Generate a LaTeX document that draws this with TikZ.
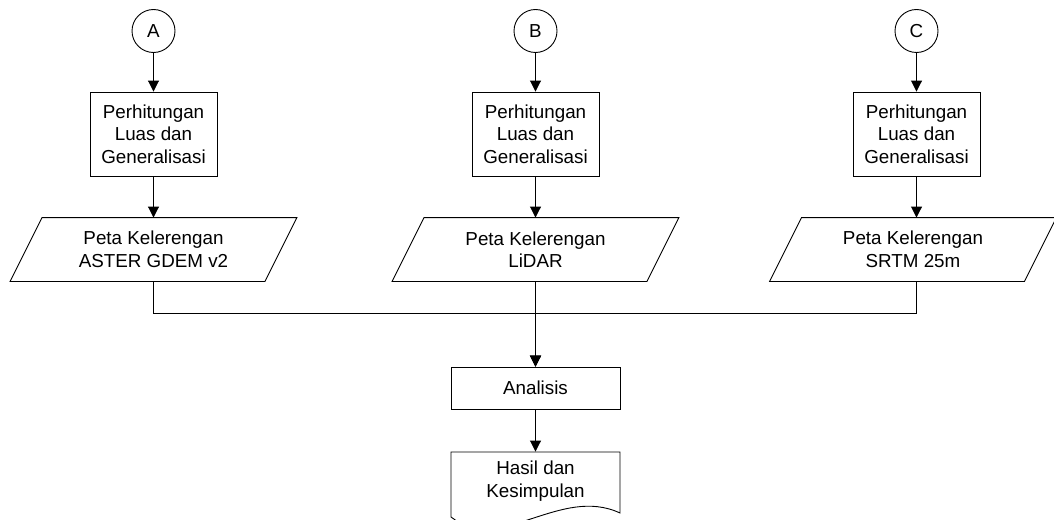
\documentclass[tikz,border=0pt]{standalone}
\usepackage{fontspec}
\setmainfont{Liberation Sans}
\usetikzlibrary{arrows.meta,calc}
\begin{document}
\begin{tikzpicture}[x=1pt,y=-1pt, line width=0.9pt,
  txt/.style={font=\fontsize{18.8}{22.5}\selectfont, align=center},
  proc/.style={txt, draw, minimum width=127pt, minimum height=84pt, inner sep=0pt},
  conn/.style={txt, draw, circle, minimum size=43pt, inner sep=0pt},
  paracore/.style={txt, minimum width=222pt, minimum height=63pt, inner sep=0pt},
  arr/.style={-{Triangle[length=11pt,width=11pt]}}]
\useasboundingbox (0,0) rectangle (1054,519);
\clip (0,0) rectangle (1054,519);

% column A
\node[conn] (cA) at (153.5,31) {A};
\node[proc] (bA) at (153.5,134) {Perhitungan\\Luas dan\\Generalisasi};
\node[paracore] (pA) at (153.5,249.5) {Peta Kelerengan\\ASTER GDEM v2};
% column B
\node[conn] (cB) at (535.5,31) {B};
\node[proc] (bB) at (535.5,134) {Perhitungan\\Luas dan\\Generalisasi};
\node[paracore] (pB) at (535.5,249.5) {Peta Kelerengan\\LiDAR};
% column C
\node[conn] (cC) at (916.5,31) {C};
\node[proc] (bC) at (916.5,134) {Perhitungan\\Luas dan\\Generalisasi};
\node[paracore] (pC) at (913,249.5) {Peta Kelerengan\\SRTM 25m};

% parallelogram outlines
\foreach \p in {pA,pB,pC}{
  \draw (\p.north west) -- ([xshift=32pt]\p.north east) -- (\p.south east)
        -- ([xshift=-32pt]\p.south west) -- cycle;
}

% bottom
\node[proc, minimum height=42pt, minimum width=169pt] (ana) at (535.5,388) {Analisis};
\node[txt, minimum width=169pt, minimum height=58pt, inner sep=0pt] (doc) at (535.5,481) {Hasil dan\\Kesimpulan};
\draw (451,517) -- (451,452) -- (620,452) -- (620,513)
      .. controls (560,485) and (500,555) .. cycle;

% connectors
\draw[arr] (cA) -- (bA);
\draw[arr] (cB) -- (bB);
\draw[arr] (cC) -- (bC);
\draw[arr] (bA.south) -- (bA.south |- pA.north);
\draw[arr] (bB.south) -- (bB.south |- pB.north);
\draw[arr] (bC.south) -- (bC.south |- pC.north);
\coordinate (j) at (535.5,313);
\draw[arr] (pA.south) |- (j) -- (ana.north);
\draw[arr] (pB.south) -- (ana.north);
\draw[arr] (bC.south |- pC.south) |- (j) -- (ana.north);
\draw[arr] (ana) -- (doc.north);
\end{tikzpicture}
\end{document}
